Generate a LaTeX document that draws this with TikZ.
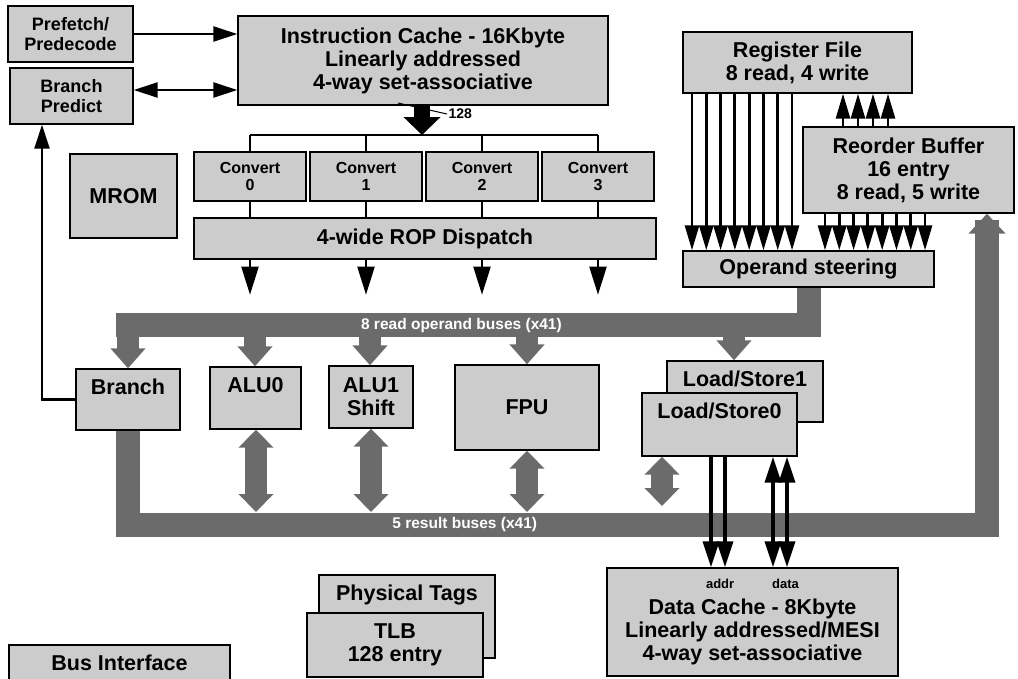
\documentclass[tikz,border=0pt]{standalone}
\usepackage{fontspec}
\setmainfont{Liberation Sans}
\usetikzlibrary{arrows.meta,backgrounds}
\definecolor{boxgray}{gray}{0.80}
\definecolor{busgray}{gray}{0.42}
\tikzset{
  unit/.style={draw, line width=1.4pt, fill=boxgray, inner sep=0pt, align=center,
    font=\bfseries\fontsize{21.5}{23}\selectfont},
  smallunit/.style={unit, font=\bfseries\fontsize{18}{20}\selectfont},
  cvunit/.style={unit, font=\bfseries\fontsize{16}{17}\selectfont},
  topline/.style={text height=25pt, text depth=#1},
  wire/.style={line width=2.5pt},
  tip/.style={wire, -{Triangle[length=24pt,width=15pt]}},
  dtip/.style={wire, {Triangle[length=24pt,width=15pt]}-{Triangle[length=24pt,width=15pt]}},
  optip/.style={line width=2pt, -{Triangle[length=28pt,width=17pt]}},
  ptip/.style={line width=2.8pt, -{Triangle[length=25pt,width=14pt]}},
  mtip/.style={line width=3.5pt, -{Triangle[length=26pt,width=16pt]}},
  mdtip/.style={line width=3.5pt, {Triangle[length=26pt,width=16pt]}-{Triangle[length=26pt,width=16pt]}},
  bus/.style={line width=24pt, busgray, line join=miter},
  busarr/.style={line width=22pt, busgray, -{Triangle[length=20pt,width=34pt]}},
  busdbl/.style={line width=22pt, busgray, {Triangle[length=18pt,width=34pt]}-{Triangle[length=18pt,width=34pt]}},
  buslbl/.style={white, font=\bfseries\fontsize{15.5}{17}\selectfont},
}
\begin{document}
\begin{tikzpicture}[x=1pt,y=-1pt]
\useasboundingbox (0,0) rectangle (1018,678);
% front end
\node[smallunit, minimum width=125pt, minimum height=56pt] (pf) at (70.5,34) {Prefetch/\\Predecode};
\node[smallunit, minimum width=123pt, minimum height=56pt] (bp) at (71.5,96) {Branch\\Predict};
\node[unit, minimum width=370pt, minimum height=89pt] (ic) at (423,60.5) {Instruction Cache - 16Kbyte\\Linearly addressed\\4-way set-associative};
\node[unit, minimum width=107pt, minimum height=84pt] (mrom) at (123.5,196) {MROM};
\foreach \i/\x in {0/250,1/366,2/482,3/598}
  \node[cvunit, minimum width=112pt, minimum height=49pt] (cv\i) at (\x,176.5) {Convert\\\i};
\node[unit, minimum width=462pt, minimum height=41pt] (dp) at (425,238.5) {4-wide ROP Dispatch};
% register file, reorder buffer
\node[unit, minimum width=229pt, minimum height=61pt] (rf) at (797.5,62.5) {Register File\\8 read, 4 write};
\node[unit, minimum width=211pt, minimum height=86pt] (rob) at (908.5,170) {Reorder Buffer\\16 entry\\8 read, 5 write};
\node[unit, minimum width=251pt, minimum height=36pt] (os) at (808.5,269) {Operand steering};
% execution units
\node[unit, topline=36pt, minimum width=104pt, minimum height=61pt] (br) at (128,399.5) {Branch};
\node[unit, topline=37pt, minimum width=91pt, minimum height=62pt] (alu0) at (255.5,398) {ALU0};
\node[unit, minimum width=84pt, minimum height=62pt] (alu1) at (371,397) {ALU1\\Shift};
\node[unit, minimum width=144pt, minimum height=85pt] (fpu) at (527,407.5) {FPU};
\node[unit, topline=36pt, minimum width=156pt, minimum height=61pt] (ls1) at (745,391.5) {Load/Store1};
\node[unit, topline=38pt, minimum width=155pt, minimum height=63pt] (ls0) at (719.5,424.5) {Load/Store0};
% memory side
\node[unit, topline=58pt, minimum width=176pt, minimum height=83pt] (pt) at (407,616.5) {Physical Tags};
\node[unit, minimum width=176pt, minimum height=64pt] (tlb) at (395,645) {TLB\\128 entry};
\node[unit, topline=25pt, minimum width=221pt, minimum height=50pt] (bi) at (119.5,670) {Bus Interface};
\node[unit, minimum width=291pt, minimum height=108pt] (dc) at (752.5,622) {{\fontsize{13}{14}\selectfont addr\hspace{38pt}data}\\[3pt]Data Cache - 8Kbyte\\Linearly addressed/MESI\\4-way set-associative};

% fetch
\draw[tip] (pf.east) -- (pf.east -| ic.west);
\draw[dtip] (bp.east |- 0,90) -- (ic.west |- 0,90);
\draw[tip] (br.west) -| (bp.south -| 42,0);
\coordinate (split) at (422,135);
\draw[line width=1pt] (398,103) -- (447,114) node[anchor=west, inner sep=1pt, font=\bfseries\fontsize{14}{15}\selectfont] (w128) {128};
\draw[line width=16pt, -{Triangle[length=18pt,width=36pt]}] (ic.south -| split) -- (split);
\draw[wire] (cv0.north |- split) -- (cv3.north |- split);
\foreach \i in {0,...,3} {
  \draw[wire] (cv\i.north) -- (cv\i.north |- split);
  \draw[wire] (cv\i.south) -- (cv\i.south |- dp.north);
  \draw[optip] (cv\i.south |- dp.south) -- +(0,35);
}

% operand paths
\foreach \k in {0,...,7} {
  \pgfmathsetmacro\xa{692+14.29*\k}
  \pgfmathsetmacro\xb{825+14.29*\k}
  \draw[ptip] (\xa,0 |- rf.south) -- (\xa,0 |- os.north);
  \draw[ptip] (\xb,0 |- rob.south) -- (\xb,0 |- os.north);
}
\foreach \k in {0,...,3} {
  \pgfmathsetmacro\xc{843+15*\k}
  \draw[ptip] (\xc,0 |- rob.north) -- (\xc,0 |- rf.south);
}

% load/store to data cache
\foreach \x in {711,725}
  \draw[mtip] (\x,0 |- ls0.south) -- (\x,0 |- dc.north);
\foreach \x in {773,787}
  \draw[mdtip] (\x,0 |- ls0.south) -- (\x,0 |- dc.north);

% buses
\begin{scope}[on background layer]
\foreach \u/\x in {br/128, alu0/255, alu1/370, fpu/527, ls1/734}
  \draw[busarr] (\x,336) -- (\x,0 |- \u.north);
\draw[bus, line cap=rect] (os.south) |- node[buslbl, pos=0.755] {8 read operand buses (x41)} (br.north |- 0,325);
\draw[bus, line cap=rect, -{Triangle[length=20pt,width=36pt]}] (br.south) -- ++(0,94) -| node[buslbl, pos=0.196] {5 result buses (x41)} (rob.south -| 987,0);
\foreach \u/\x in {alu0/256, alu1/371, fpu/527}
  \draw[busdbl] (\x,0 |- \u.south) -- (\x,512);
\draw[busdbl] (662,0 |- ls0.south) -- (662,506);
\end{scope}
\end{tikzpicture}
\end{document}
